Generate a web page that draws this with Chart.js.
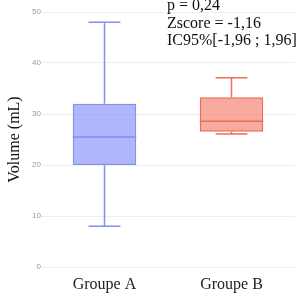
<!DOCTYPE html>
<html>
<head>
<meta charset="utf-8">
<script src="https://cdn.jsdelivr.net/npm/chart.js@4/dist/chart.umd.min.js"></script>
<style>
html,body{margin:0;padding:0;background:#fff;}
#wrap{width:303px;height:300px;}
</style>
</head>
<body>
<div id="wrap"><canvas id="c" width="303" height="300"></canvas></div>
<script>
const categories = ["Groupe A", "Groupe B"];
const mins    = [8, 26.1];
const q1s     = [20, 26.5];
const medians = [25.5, 28.6];
const q3s     = [32, 33.3];
const maxs    = [48, 37.1];
const yTicks  = [0, 10, 20, 30, 40, 50];
const yTitle  = "Volume (mL)";
const annotationLines = ["p = 0,24", "Zscore = -1,16", "IC95%[-1,96 ; 1,96]"];

const fillColors   = ["rgba(99,110,250,0.5)", "rgba(239,85,59,0.5)"];
const borderColors = ["rgb(134,142,240)", "rgb(236,110,88)"];

const boxPlugin = {
  id: 'boxParts',
  beforeDatasetsDraw(chart) {
    const ctx = chart.ctx;
    const meta = chart.getDatasetMeta(0);
    const y = chart.scales.y;
    ctx.save();
    meta.data.forEach((bar, i) => {
      const cx = bar.x;
      const w = bar.width;
      ctx.strokeStyle = borderColors[i];
      ctx.lineWidth = 1.5;
      ctx.beginPath();
      ctx.moveTo(cx, y.getPixelForValue(q3s[i]));
      ctx.lineTo(cx, y.getPixelForValue(maxs[i]));
      ctx.moveTo(cx, y.getPixelForValue(q1s[i]));
      ctx.lineTo(cx, y.getPixelForValue(mins[i]));
      ctx.moveTo(cx - w / 4, y.getPixelForValue(maxs[i]));
      ctx.lineTo(cx + w / 4, y.getPixelForValue(maxs[i]));
      ctx.moveTo(cx - w / 4, y.getPixelForValue(mins[i]));
      ctx.lineTo(cx + w / 4, y.getPixelForValue(mins[i]));
      ctx.stroke();
    });
    ctx.restore();
  },
  afterDatasetsDraw(chart) {
    const ctx = chart.ctx;
    const meta = chart.getDatasetMeta(0);
    const y = chart.scales.y;
    ctx.save();
    meta.data.forEach((bar, i) => {
      const cx = bar.x;
      const w = bar.width;
      ctx.strokeStyle = borderColors[i];
      ctx.lineWidth = 1.5;
      ctx.beginPath();
      ctx.moveTo(cx - w / 2, y.getPixelForValue(medians[i]));
      ctx.lineTo(cx + w / 2, y.getPixelForValue(medians[i]));
      ctx.stroke();
    });
    ctx.restore();
  },
  afterDraw(chart) {
    const ctx = chart.ctx;
    ctx.save();
    ctx.fillStyle = "#111";
    ctx.font = "16px 'Liberation Serif'";
    ctx.textBaseline = "middle";
    ctx.textAlign = "left";
    annotationLines.forEach((t, k) => {
      ctx.fillText(t, 167, 6 + k * 17.5);
    });
    ctx.restore();
  }
};

new Chart(document.getElementById('c'), {
  type: 'bar',
  data: {
    labels: categories,
    datasets: [{
      data: q1s.map((v, i) => [v, q3s[i]]),
      backgroundColor: fillColors,
      borderColor: borderColors,
      borderWidth: 1.5,
      borderSkipped: false,
      barPercentage: 0.5,
      categoryPercentage: 1.0
    }]
  },
  options: {
    responsive: false,
    animation: false,
    devicePixelRatio: 1,
    layout: { padding: { top: 12, right: 8, bottom: 0, left: 0 } },
    plugins: { legend: { display: false }, tooltip: { enabled: false } },
    scales: {
      x: {
        afterFit(scale) { scale.height = 33; },
        grid: { display: false },
        border: { display: false },
        ticks: {
          padding: 0,
          color: "#222",
          font: { family: "'Liberation Serif'", size: 16 }
        }
      },
      y: {
        min: 0,
        max: 50,
        afterBuildTicks(scale) { scale.ticks = yTicks.map(v => ({ value: v })); },
        afterFit(scale) { scale.width = 41; },
        grid: { color: "#eeeeee", drawTicks: false, lineWidth: 1 },
        border: { display: false },
        ticks: {
          padding: 0,
          color: "#999",
          font: { family: "'Liberation Sans'", size: 8 }
        },
        title: {
          display: true,
          text: yTitle,
          color: "#111",
          padding: { top: 5, bottom: 0 },
          font: { family: "'Liberation Serif'", size: 16 }
        }
      }
    }
  },
  plugins: [boxPlugin]
});
</script>
</body>
</html>
